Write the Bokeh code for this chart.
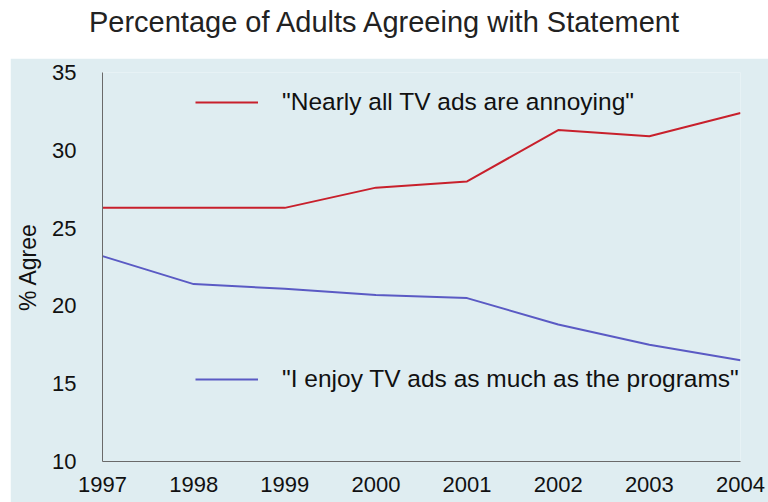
from bokeh.plotting import figure
from bokeh.models import Range1d, Legend, LegendItem, Div, Spacer, FixedTicker
from bokeh.layouts import column, row
from bokeh.embed import file_html
from bokeh.resources import INLINE

years = [1997, 1998, 1999, 2000, 2001, 2002, 2003, 2004]
annoying = [26.3, 26.3, 26.3, 27.6, 28.0, 31.3, 30.9, 32.4]
enjoy = [23.2, 21.4, 21.1, 20.7, 20.5, 18.8, 17.5, 16.5]
y_ticks = [10, 15, 20, 25, 30, 35]
title_text = "Percentage of Adults Agreeing with Statement"
label_annoying = '"Nearly all TV ads are annoying"'
label_enjoy = '"I enjoy TV ads as much as the programs"'

BG = "#dfedf1"
FONT = "Liberation Sans"

title = Div(text=title_text, width=768, height=58, margin=0,
            styles={"font-family": FONT, "font-size": "29px", "color": "#222",
                    "text-align": "center", "width": "768px", "height": "58px",
                    "line-height": "44px", "box-sizing": "border-box",
                    "background": "white"})

p = figure(width=758, height=444, output_backend="svg", toolbar_location=None,
           x_range=Range1d(1997, 2004), y_range=Range1d(10, 35), margin=0,
           min_border_left=92, min_border_right=28, min_border_top=14, min_border_bottom=41)
p.background_fill_color = BG
p.border_fill_color = BG
p.outline_line_color = None
p.xgrid.visible = False
p.ygrid.visible = False

for ax in (p.xaxis[0], p.yaxis[0]):
    ax.axis_line_color = "#6a6a6a"
    ax.major_tick_line_color = None
    ax.minor_tick_line_color = None
    ax.major_label_text_font = FONT
    ax.major_label_text_font_size = "22px"
    ax.major_label_text_color = "#111"
p.xaxis.ticker = FixedTicker(ticks=years)
p.yaxis.ticker = FixedTicker(ticks=y_ticks)
p.xaxis.major_label_standoff = 9
p.yaxis.major_label_standoff = 20
p.yaxis.axis_label = "% Agree"
p.yaxis.axis_label_text_font = FONT
p.yaxis.axis_label_text_font_style = "normal"
p.yaxis.axis_label_text_font_size = "23px"
p.yaxis.axis_label_text_color = "#111"
p.yaxis.axis_label_standoff = 8

r1 = p.line(years, annoying, line_color="#c8202c", line_width=2)
r2 = p.line(years, enjoy, line_color="#5a5ac4", line_width=2)

def mk_legend(r, label, loc):
    lg = Legend(items=[LegendItem(label=label, renderers=[r])], location=loc,
                background_fill_alpha=0, border_line_color=None, padding=0, margin=0,
                glyph_width=63, glyph_height=26, label_height=26, label_standoff=24,
                label_text_font=FONT, label_text_font_size="24.5px", label_text_color="#111")
    return lg

p.add_layout(mk_legend(r1, label_annoying, (93, 345)))
p.add_layout(mk_legend(r2, label_enjoy, (93, 68)))

layout = column(title, row(Spacer(width=10, height=444, margin=0), p, margin=0),
                spacing=0, margin=0)
open("out.html", "w").write(file_html(layout, INLINE))
